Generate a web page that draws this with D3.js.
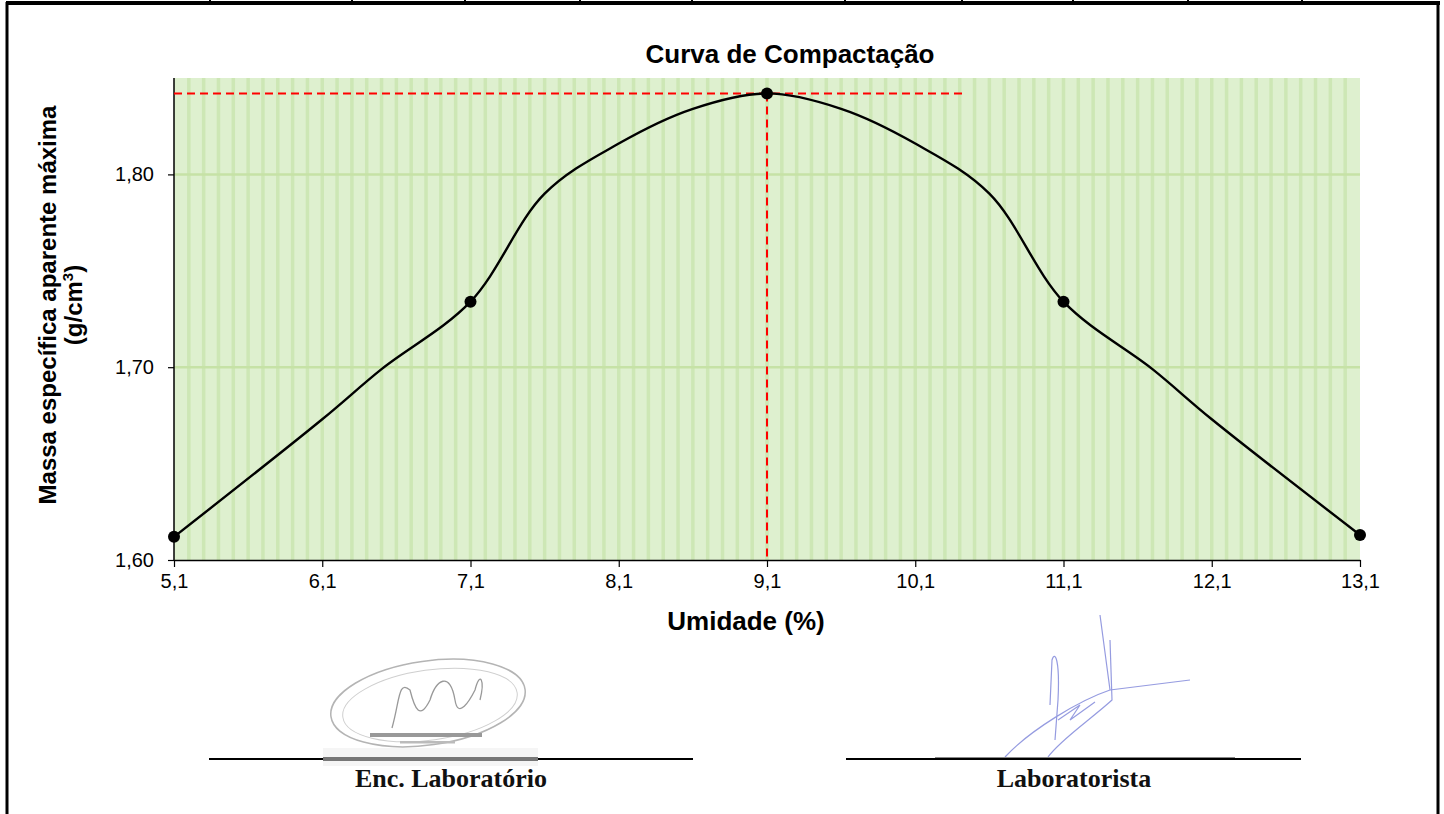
<!DOCTYPE html>
<html>
<head>
<meta charset="utf-8">
<script src="https://cdn.jsdelivr.net/npm/d3@7"></script>
<style>
  body { margin: 0; background: #fff; }
  svg { display: block; font-family: Arial, "Liberation Sans", sans-serif; }
</style>
</head>
<body>
<div id="chart"></div>
<script>
// measured points (umidade %, massa específica g/cm3)
const umidade = [5.1, 7.1, 9.1, 11.1, 13.1];
const massa = [1.612, 1.734, 1.842, 1.734, 1.613];

// fitted curve points
const curveX = [5.1, 6.1, 6.5, 7.1, 7.6, 8.1, 8.6, 9.1, 9.6, 10.1, 10.6, 11.1, 11.7, 12.1, 13.1];
const curveY = [1.612, 1.673, 1.699, 1.734, 1.79, 1.816, 1.834, 1.842, 1.834, 1.816, 1.79, 1.734, 1.699, 1.673, 1.613];

const xTicks = [5.1, 6.1, 7.1, 8.1, 9.1, 10.1, 11.1, 12.1, 13.1];
const yTicks = [1.6, 1.7, 1.8];
const xDomain = [5.1, 13.1];
const yDomain = [1.6, 1.85];

// optimum: max density & its moisture
const optX = 9.1;
const optY = 1.842;
const optLineEnd = 10.43;

// header table dividers on the form (scan)
const headerDividers = [210, 352, 465, 580, 692, 845, 962, 1073, 1188, 1302];

const W = 1444, H = 814;
const margin = { top: 78, right: 84, bottom: 254, left: 174 };
const width = W - margin.left - margin.right;
const height = H - margin.top - margin.bottom;

const svg = d3.select('#chart').append('svg').attr('width', W).attr('height', H);

// form frame
svg.append('line').attr('x1', 6).attr('x2', 1440).attr('y1', 3).attr('y2', 3)
  .attr('stroke', '#000').attr('stroke-width', 4);
svg.append('line').attr('x1', 7).attr('x2', 7).attr('y1', 2).attr('y2', H)
  .attr('stroke', '#000').attr('stroke-width', 3);
svg.append('line').attr('x1', 1438).attr('x2', 1438).attr('y1', 2).attr('y2', H)
  .attr('stroke', '#000').attr('stroke-width', 3);
svg.append('g').selectAll('line').data(headerDividers).enter().append('line')
  .attr('x1', (d) => d).attr('x2', (d) => d).attr('y1', 0).attr('y2', 4)
  .attr('stroke', '#000').attr('stroke-width', 2);

const x = d3.scaleLinear().domain(xDomain).range([0, width]);
const y = d3.scaleLinear().domain(yDomain).range([height, 0]);

const g = svg.append('g').attr('transform', `translate(${margin.left},${margin.top})`);

// plot background
g.append('rect').attr('width', width).attr('height', height).attr('fill', '#def0cf');

// minor vertical gridlines every 0.1
const minor = d3.range(1, 80).map((i) => xDomain[0] + i * 0.1);
g.append('g').selectAll('line').data(minor).enter().append('line')
  .attr('x1', (d) => x(d)).attr('x2', (d) => x(d))
  .attr('y1', 0).attr('y2', height)
  .attr('stroke', '#cde7b5').attr('stroke-width', 3.5);

// horizontal gridlines
g.append('g').selectAll('line').data(yTicks.slice(1)).enter().append('line')
  .attr('x1', 0).attr('x2', width)
  .attr('y1', (d) => y(d)).attr('y2', (d) => y(d))
  .attr('stroke', '#c6e2a6').attr('stroke-width', 2.5);

// axes
const fmt = (d) => d.toFixed(1).replace('.', ',');
const fmtY = (d) => d.toFixed(2).replace('.', ',');

const xAxis = g.append('g').attr('transform', `translate(0,${height})`)
  .call(d3.axisBottom(x).tickValues(xTicks).tickFormat(fmt).tickSize(7).tickSizeOuter(0));
xAxis.selectAll('text').attr('font-size', 20).attr('fill', '#000').attr('y', 14).attr('dy', '0.71em')
  .attr('font-family', 'Arial, "Liberation Sans", sans-serif');

const yAxis = g.append('g')
  .call(d3.axisLeft(y).tickValues(yTicks).tickFormat(fmtY).tickSize(6).tickSizeOuter(0));
yAxis.selectAll('text').attr('font-size', 20).attr('fill', '#000').attr('x', -20)
  .attr('font-family', 'Arial, "Liberation Sans", sans-serif');
yAxis.select('.domain').attr('d', `M0,0V${height}`);
g.selectAll('.domain').attr('stroke', '#000').attr('stroke-width', 1.5);
g.selectAll('.tick line').attr('stroke', '#000').attr('stroke-width', 1.2);

// red dashed guides
g.append('line').attr('x1', 0).attr('x2', x(optLineEnd))
  .attr('y1', y(optY)).attr('y2', y(optY))
  .attr('stroke', '#ff0000').attr('stroke-width', 2).attr('stroke-dasharray', '8,5');
g.append('line').attr('x1', x(optX)).attr('x2', x(optX))
  .attr('y1', y(optY)).attr('y2', height)
  .attr('stroke', '#ff0000').attr('stroke-width', 2).attr('stroke-dasharray', '8,5');

// curve
const curveData = curveX.map((d, i) => [d, curveY[i]]);
const line = d3.line().x((d) => x(d[0])).y((d) => y(d[1])).curve(d3.curveCatmullRom.alpha(0.5));
g.append('path').datum(curveData).attr('d', line)
  .attr('fill', 'none').attr('stroke', '#000').attr('stroke-width', 2.4);

// markers
g.append('g').selectAll('circle').data(umidade).enter().append('circle')
  .attr('cx', (d) => x(d)).attr('cy', (d, i) => y(massa[i])).attr('r', 6)
  .attr('fill', '#000');

// titles
svg.append('text').attr('x', 790).attr('y', 63).attr('text-anchor', 'middle')
  .attr('font-size', 26).attr('font-weight', 'bold').text('Curva de Compactação');
svg.append('text').attr('x', 746).attr('y', 630).attr('text-anchor', 'middle')
  .attr('font-size', 26).attr('font-weight', 'bold').text('Umidade (%)');

const yt = svg.append('text').attr('transform', 'translate(56,305) rotate(-90)')
  .attr('text-anchor', 'middle').attr('font-size', 24).attr('font-weight', 'bold');
yt.append('tspan').attr('x', 0).attr('y', 0).text('Massa específica aparente máxima');
yt.append('tspan').attr('x', 0).attr('y', 26).text('(g/cm');
yt.append('tspan').attr('dy', -9).attr('font-size', 15).text('3');
yt.append('tspan').attr('dy', 9).text(')');

// signatures area
const sig = svg.append('g');
// stamp (scanned)
sig.append('ellipse').attr('cx', 428).attr('cy', 703).attr('rx', 98).attr('ry', 42)
  .attr('transform', 'rotate(-8,428,703)')
  .attr('fill', 'none').attr('stroke', '#b4b4b4').attr('stroke-width', 1.5);
sig.append('ellipse').attr('cx', 430).attr('cy', 705).attr('rx', 88).attr('ry', 35)
  .attr('transform', 'rotate(-8,430,705)')
  .attr('fill', 'none').attr('stroke', '#cfcfcf').attr('stroke-width', 1);
sig.append('path')
  .attr('d', 'M392,728 C400,700 398,680 410,690 C415,710 420,720 430,700 C436,680 450,670 455,700 C458,720 470,700 475,690 C480,670 485,680 480,700')
  .attr('fill', 'none').attr('stroke', '#999').attr('stroke-width', 1.3);
sig.append('rect').attr('x', 370).attr('y', 733).attr('width', 112).attr('height', 4).attr('fill', '#999');
sig.append('rect').attr('x', 400).attr('y', 741).attr('width', 55).attr('height', 2.5).attr('fill', '#bbb');
sig.append('rect').attr('x', 323).attr('y', 748).attr('width', 215).attr('height', 18).attr('fill', '#f5f5f5');

// blue signature
sig.append('path')
  .attr('d', 'M1005,757 C1030,730 1080,700 1110,690 M1048,757 C1060,740 1090,720 1112,700 L1110,640 M1100,615 L1110,690 M1050,705 L1052,660 C1055,650 1060,660 1058,700 L1055,740 M1058,720 L1080,705 L1070,720 L1095,702 M1110,690 L1190,680')
  .attr('fill', 'none').attr('stroke', '#7b82d8').attr('stroke-width', 1.2).attr('opacity', 0.8);
sig.append('rect').attr('x', 935).attr('y', 757).attr('width', 300).attr('height', 3).attr('fill', '#888');

// signature lines
sig.append('line').attr('x1', 209).attr('x2', 693).attr('y1', 759).attr('y2', 759)
  .attr('stroke', '#000').attr('stroke-width', 2.2);
sig.append('line').attr('x1', 846).attr('x2', 1301).attr('y1', 759).attr('y2', 759)
  .attr('stroke', '#000').attr('stroke-width', 2.2);
sig.append('rect').attr('x', 323).attr('y', 757).attr('width', 215).attr('height', 4).attr('fill', '#777');

svg.append('text').attr('x', 451).attr('y', 787).attr('text-anchor', 'middle')
  .attr('font-family', '"Liberation Serif", "DejaVu Serif", serif').attr('font-weight', 'bold')
  .attr('font-size', 26).attr('fill', '#111').text('Enc. Laboratório');
svg.append('text').attr('x', 1074).attr('y', 787).attr('text-anchor', 'middle')
  .attr('font-family', '"Liberation Serif", "DejaVu Serif", serif').attr('font-weight', 'bold')
  .attr('font-size', 26).attr('fill', '#111').text('Laboratorista');
</script>
</body>
</html>
